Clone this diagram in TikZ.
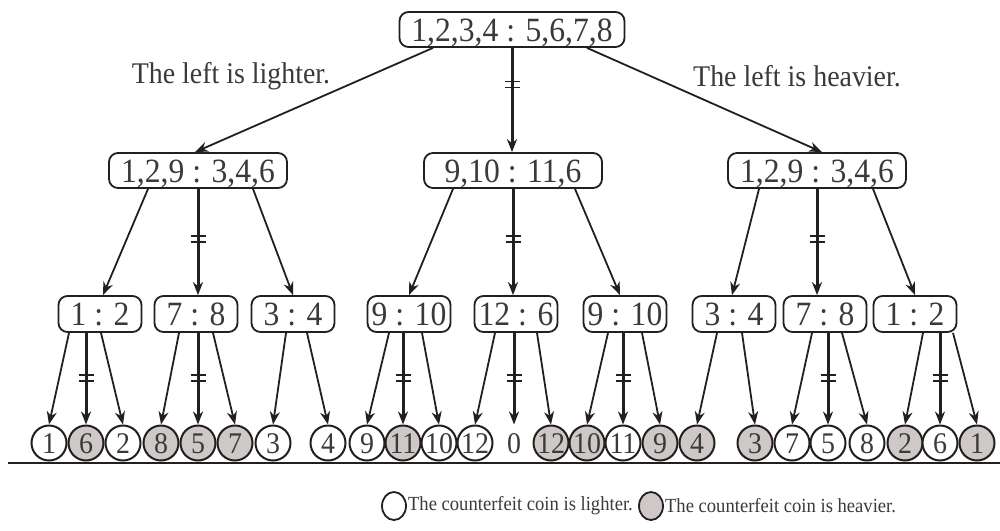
\documentclass[tikz,border=0pt]{standalone}
\usepackage{fontspec}
\setmainfont{Liberation Serif}[FakeStretch=0.93]
\usetikzlibrary{arrows.meta,calc,shapes.geometric}
\definecolor{ink}{HTML}{231F20}
\definecolor{txt}{HTML}{3A3A3A}
\definecolor{heavy}{RGB}{206,200,199}
\begin{document}
\begin{tikzpicture}[x=1pt,y=-1pt,
  wbox/.style={draw=ink, line width=1.8pt, rounded corners=9pt, text=txt, inner sep=0pt,
     minimum height=35pt, text height=23pt, text depth=0pt, font=\fontsize{34}{34}\selectfont},
  topbox/.style={wbox, minimum width=225pt},
  midbox/.style={wbox, minimum width=178pt},
  lowbox/.style={wbox, minimum width=83pt, minimum height=36pt},
  coin/.style={circle, draw=ink, line width=2pt, minimum size=35pt, inner sep=0pt, text=txt,
     text height=20pt, text depth=0pt, font=\fontsize{30}{30}\selectfont},
  lightcoin/.style={coin, fill=white},
  heavycoin/.style={coin, fill=heavy},
  nocoin/.style={coin, draw=none},
  legcoin/.style={ellipse, draw=ink, line width=1.8pt, inner sep=0pt, minimum width=24pt, minimum height=28pt},
  arr/.style={draw=ink, line width=1.8pt, -{Stealth[length=13pt,width=10pt]}},
  marr/.style={arr, line width=3pt},
  lbl/.style={text=txt, font=\fontsize{30}{30}\selectfont},
  legtxt/.style={text=txt, font=\fontsize{20}{20}\selectfont, anchor=west, inner sep=1pt},
  eqtick/.pic={\draw[ink,line width=1.6pt] (-7.5,-3) -- (7.5,-3) (-7.5,3) -- (7.5,3);}
]
\useasboundingbox (0,0) rectangle (1000,530);
\fill[white] (0,0) rectangle (1000,530);

% level 1 and 2
\node[topbox] (top) at (512,29.5) {1,2,3,4 : 5,6,7,8};
\node[midbox] (a) at (198,170.5) {1,2,9 : 3,4,6};
\node[midbox] (b) at (513,170.5) {9,10 : 11,6};
\node[midbox] (c) at (817,170.5) {1,2,9 : 3,4,6};

\node[lbl] (ll) at (231,76) {The left is lighter.};
\node[lbl] (lr) at (797,76) {The left is heavier.};

% level 3
\node[lowbox] (a1) at (100,314) {1 : 2};
\node[lowbox] (a2) at (196,314) {7 : 8};
\node[lowbox] (a3) at (293,314) {3 : 4};
\node[lowbox] (b1) at (409,314) {9 : 10};
\node[lowbox] (b2) at (516,314) {12 : 6};
\node[lowbox] (b3) at (625,314) {9 : 10};
\node[lowbox] (c1) at (734,314) {3 : 4};
\node[lowbox] (c2) at (825,314) {7 : 8};
\node[lowbox] (c3) at (915,314) {1 : 2};

% ground line
\coordinate (gl) at (8,463);
\coordinate (gr) at (1000,463);
\draw[ink, line width=2.5pt] (gl) -- (gr);

% leaves
\node[lightcoin] (l1) at (49,443) {1};
\node[heavycoin] (l2) at (86,443) {6};
\node[lightcoin] (l3) at (123,443) {2};
\node[heavycoin] (l4) at (161,443) {8};
\node[heavycoin] (l5) at (198,443) {5};
\node[heavycoin] (l6) at (235,443) {7};
\node[lightcoin] (l7) at (273,443) {3};
\node[lightcoin] (l8) at (328,443) {4};
\node[lightcoin] (l9) at (367,443) {9};
\node[heavycoin] (l10) at (403,443) {11};
\node[lightcoin] (l11) at (439,443) {10};
\node[lightcoin] (l12) at (475,443) {12};
\node[nocoin] (l13) at (514,443) {0};
\node[heavycoin] (l14) at (551,443) {12};
\node[heavycoin] (l15) at (587,443) {10};
\node[lightcoin] (l16) at (623,443) {11};
\node[heavycoin] (l17) at (660,443) {9};
\node[heavycoin] (l18) at (697,443) {4};
\node[heavycoin] (l19) at (755,443) {3};
\node[lightcoin] (l20) at (792,443) {7};
\node[lightcoin] (l21) at (828,443) {5};
\node[lightcoin] (l22) at (867,443) {8};
\node[heavycoin] (l23) at (905,443) {2};
\node[lightcoin] (l24) at (940,443) {6};
\node[heavycoin] (l25) at (977,443) {1};

% top edges
\draw[arr] ([xshift=-79pt]top.south) -- ([xshift=-3pt]a.north);
\draw[marr] (top.south) -- (top.south |- b.north) coordinate[pos=.35] (k0);
\draw[arr] ([xshift=75pt]top.south) -- ([xshift=5pt]c.north);

% level 2 -> 3
\draw[arr] ([xshift=-50pt]a.south) -- ([xshift=3pt]a1.north);
\draw[marr] (a.south) -- (a.south |- a2.north) coordinate[pos=.47] (k1);
\draw[arr] ([xshift=55pt]a.south) -- (a3.north);
\draw[arr] ([xshift=-60pt]b.south) -- (b1.north);
\draw[marr] (b.south) -- (b.south |- b2.north) coordinate[pos=.47] (k2);
\draw[arr] ([xshift=62pt]b.south) -- ([xshift=-5pt]b3.north);
\draw[arr] ([xshift=-58pt]c.south) -- ([xshift=-2pt]c1.north);
\draw[marr] (c.south) -- (c.south |- c2.north) coordinate[pos=.47] (k3);
\draw[arr] ([xshift=56pt]c.south) -- (c3.north);

% level 3 -> leaves
\draw[arr] ([xshift=-31pt]a1.south) -- (l1.north);
\draw[marr] (l2.north |- a1.south) -- (l2.north) coordinate[pos=.49] (m1);
\draw[arr] ([xshift=1pt]a1.south) -- (l3.north);
\draw[arr] ([xshift=-17pt]a2.south) -- (l4.north);
\draw[marr] (l5.north |- a2.south) -- (l5.north) coordinate[pos=.49] (m2);
\draw[arr] ([xshift=17pt]a2.south) -- (l6.north);
\draw[arr] ([xshift=-7pt]a3.south) -- (l7.north);
\draw[arr] ([xshift=14pt]a3.south) -- (l8.north);
\draw[arr] ([xshift=-20pt]b1.south) -- (l9.north);
\draw[marr] (l10.north |- b1.south) -- (l10.north) coordinate[pos=.49] (m3);
\draw[arr] ([xshift=13pt]b1.south) -- (l11.north);
\draw[arr] ([xshift=-21pt]b2.south) -- (l12.north);
\draw[marr] (l13.north |- b2.south) -- (l13.north) coordinate[pos=.49] (m4);
\draw[arr] ([xshift=21pt]b2.south) -- (l14.north);
\draw[arr] ([xshift=-17pt]b3.south) -- (l15.north);
\draw[marr] (l16.north |- b3.south) -- (l16.north) coordinate[pos=.49] (m5);
\draw[arr] ([xshift=17pt]b3.south) -- (l17.north);
\draw[arr] ([xshift=-17pt]c1.south) -- (l18.north);
\draw[arr] ([xshift=8pt]c1.south) -- (l19.north);
\draw[arr] ([xshift=-13pt]c2.south) -- (l20.north);
\draw[marr] (l21.north |- c2.south) -- (l21.north) coordinate[pos=.49] (m6);
\draw[arr] ([xshift=17pt]c2.south) -- (l22.north);
\draw[arr] ([xshift=8pt]c3.south) -- (l23.north);
\draw[marr] (l24.north |- c3.south) -- (l24.north) coordinate[pos=.49] (m7);
\draw[arr] ([xshift=38pt]c3.south) -- (l25.north);

% double ticks
\foreach \k in {k0,k1,k2,k3,m1,m2,m3,m4,m5,m6,m7} \pic at (\k) {eqtick};

% legend
\node[legcoin, fill=white] (lg1) at (394,506) {};
\node[legtxt] (lt1) at (lg1.east) {The counterfeit coin is lighter.};
\node[legcoin, fill=heavy] (lg2) at (651,506) {};
\node[legtxt] (lt2) at (lg2.east) {The counterfeit coin is heavier.};
\end{tikzpicture}
\end{document}
